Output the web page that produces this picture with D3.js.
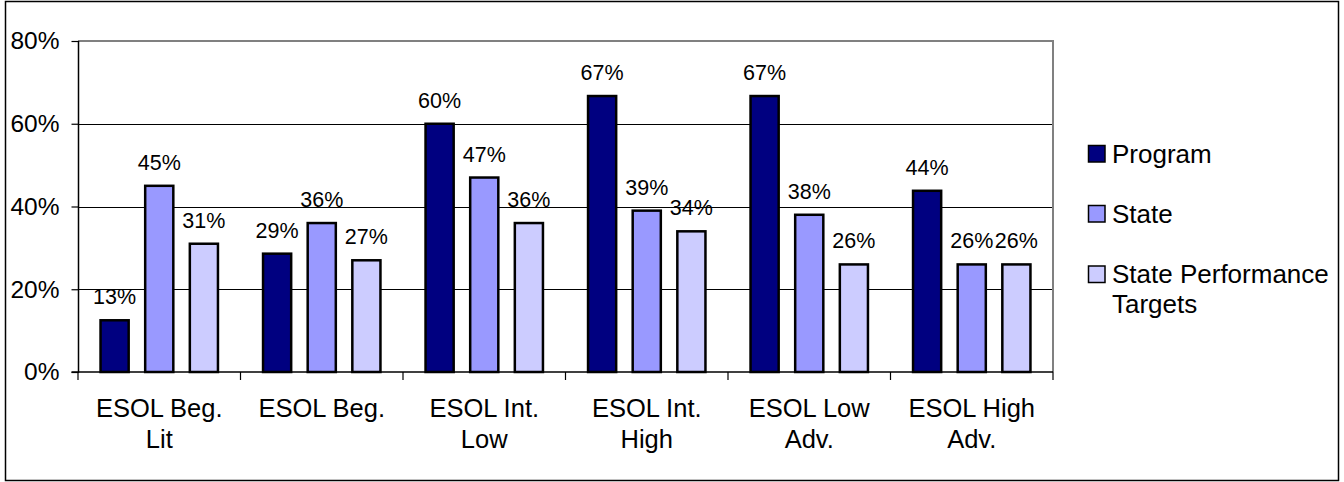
<!DOCTYPE html>
<html>
<head>
<meta charset="utf-8">
<script src="https://cdn.jsdelivr.net/npm/d3@7"></script>
<style>
  html, body { margin: 0; padding: 0; background: #fff; }
  svg { display: block; font-family: "Liberation Sans", Arial, sans-serif; }
</style>
</head>
<body>
<svg id="chart" width="1344" height="482"></svg>
<script>
// ---- data ----
const categories = [
  ["ESOL Beg.", "Lit"],
  ["ESOL Beg."],
  ["ESOL Int.", "Low"],
  ["ESOL Int.", "High"],
  ["ESOL Low", "Adv."],
  ["ESOL High", "Adv."]
];
const seriesNames = ["Program", "State", "State Performance Targets"];
const programValues = [12.5, 28.6, 60, 66.7, 66.7, 43.8];
const stateValues = [45, 36, 47, 39, 38, 26];
const targetValues = [31, 27, 36, 34, 26, 26];
const yTicks = [0, 20, 40, 60, 80];

// ---- styles ----
const colors = ["#000080", "#9999FF", "#CCCCFF"];

const svg = d3.select("#chart");

// outer border
svg.append("rect")
  .attr("x", 5.5).attr("y", 1.5).attr("width", 1333).attr("height", 479)
  .attr("fill", "#fff").attr("stroke", "#000").attr("stroke-width", 1.5);

const plot = { left: 78, right: 1053, top: 41, bottom: 372 };

const x = d3.scaleBand()
  .domain(d3.range(categories.length))
  .range([plot.left, plot.right])
  .paddingInner(0).paddingOuter(0);

const xInner = d3.scaleBand()
  .domain(d3.range(seriesNames.length))
  .range([0, x.bandwidth()])
  .paddingInner(0.37).paddingOuter(0.505);

const y = d3.scaleLinear().domain([0, 80]).range([plot.bottom, plot.top]);

// gridlines
svg.append("g").selectAll("line")
  .data(yTicks.filter(t => t > 0 && t < 80))
  .join("line")
  .attr("x1", plot.left).attr("x2", plot.right)
  .attr("y1", d => Math.round(y(d)) + 0.5).attr("y2", d => Math.round(y(d)) + 0.5)
  .attr("stroke", "#000").attr("stroke-width", 1);

// plot area border (top and right, gray)
svg.append("path")
  .attr("d", `M${plot.left},${plot.top} H${plot.right} V${plot.bottom}`)
  .attr("fill", "none").attr("stroke", "#808080").attr("stroke-width", 2);

// bars
const seriesData = [programValues, stateValues, targetValues];
const barG = svg.append("g");
seriesData.forEach((vals, si) => {
  barG.selectAll(null)
    .data(vals)
    .join("rect")
    .attr("x", (d, i) => x(i) + xInner(si))
    .attr("y", d => y(d))
    .attr("width", xInner.bandwidth())
    .attr("height", d => y(0) - y(d))
    .attr("fill", colors[si])
    .attr("stroke", "#000").attr("stroke-width", 2.5);
  barG.selectAll(null)
    .data(vals)
    .join("text")
    .attr("x", (d, i) => x(i) + xInner(si) + xInner.bandwidth() / 2)
    .attr("y", d => y(d) - 16)
    .attr("text-anchor", "middle")
    .attr("font-size", 21.5)
    .attr("fill", "#000")
    .text(d => Math.round(d) + "%");
});

// y axis
const yAxis = d3.axisLeft(y).tickValues(yTicks).tickFormat(d => d + "%")
  .tickSize(7).tickPadding(12);
const yg = svg.append("g").attr("transform", `translate(${plot.left + 0.5},0)`).call(yAxis);
yg.select(".domain").attr("stroke", "#000").attr("stroke-width", 1.5)
  .attr("d", `M-7,${plot.bottom}H0V${plot.top}`);
yg.selectAll(".tick line").attr("stroke", "#000").attr("stroke-width", 1.2);
yg.selectAll(".tick text").attr("font-size", 24.5).attr("fill", "#000")
  .attr("font-family", "Liberation Sans, Arial, sans-serif");

// x axis
const xg = svg.append("g");
xg.append("line")
  .attr("x1", plot.left).attr("x2", plot.right)
  .attr("y1", plot.bottom).attr("y2", plot.bottom)
  .attr("stroke", "#000").attr("stroke-width", 1.5);
const boundaries = d3.range(categories.length + 1).map(i =>
  i < categories.length ? x(i) : x(categories.length - 1) + x.bandwidth());
xg.selectAll(".xt").data(boundaries).join("line")
  .attr("x1", d => d).attr("x2", d => d)
  .attr("y1", plot.bottom).attr("y2", plot.bottom + 8)
  .attr("stroke", "#000").attr("stroke-width", 1.2);
xg.selectAll(".xl").data(categories).join("text")
  .attr("x", (d, i) => x(i) + x.bandwidth() / 2)
  .attr("y", 416.5)
  .attr("text-anchor", "middle")
  .attr("font-size", 25.5)
  .attr("fill", "#000")
  .each(function(d) {
    const t = d3.select(this);
    d.forEach((line, li) => {
      t.append("tspan")
        .attr("x", t.attr("x"))
        .attr("dy", li === 0 ? 0 : 31)
        .text(line);
    });
  });

// legend
const legendItems = [
  { lines: ["Program"], y: 145 },
  { lines: ["State"], y: 205 },
  { lines: ["State Performance", "Targets"], y: 265.5 }
];
const lg = svg.append("g");
legendItems.forEach((item, i) => {
  lg.append("rect")
    .attr("x", 1088.5).attr("y", item.y + 0.5)
    .attr("width", 16.5).attr("height", 16.5)
    .attr("fill", colors[i]).attr("stroke", "#000").attr("stroke-width", 1.5);
  const t = lg.append("text")
    .attr("x", 1112).attr("y", item.y + 17.5)
    .attr("font-size", 26).attr("fill", "#000");
  item.lines.forEach((line, li) => {
    t.append("tspan").attr("x", 1112).attr("dy", li === 0 ? 0 : 30).text(line);
  });
});
</script>
</body>
</html>
